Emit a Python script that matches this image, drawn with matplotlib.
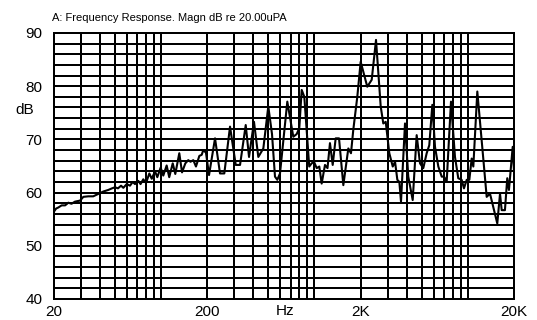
import matplotlib
matplotlib.use("Agg")
import matplotlib.pyplot as plt
from matplotlib import font_manager
from matplotlib.ticker import NullFormatter, FixedLocator
import numpy as np

# ---- data ----
freq_hz = [20, 20.8, 21.5, 22.6, 23.8, 25.0, 26.2, 27.6, 29.8, 31.3, 33.7, 36.3,
           40.2, 42.2, 45.5, 48.1, 50.3, 52.6, 55.1, 57.0, 60.0, 63.0, 65.6, 67.9,
           71.4, 73.8, 76.9, 80.1, 84.2, 87.3, 91.7, 94.9, 99.8, 103.8, 109.2, 113.5,
           119.6, 124.3, 132.0, 137.5, 144.5, 151.0, 156.1, 162.9, 169.5, 178.3, 184.7,
           189.2, 197.0, 206.2, 225.6, 243.1, 259.3, 282.5, 307.8, 328.3, 357.5, 375.7,
           404.7, 431.8, 465.6, 501.6, 530.3, 554.6, 574.1, 597.9, 667.1, 729.8, 767.7,
           798.4, 827.9, 861.0, 927.0, 961.6, 995.4, 1037, 1078, 1117, 1174, 1219, 1265,
           1318, 1378, 1449, 1546, 1666, 1734, 1795, 1906, 2005, 2214, 2366, 2524, 2708,
           2815, 2920, 3081, 3244, 3358, 3476, 3582, 3672, 3899, 4095, 4376, 4645, 4882,
           5129, 5397, 5612, 5874, 6115, 6427, 6762, 6998, 7288, 7773, 8252, 8670, 9122,
           9442, 9838, 10233, 10600, 10865, 11535, 13276, 13954, 15564, 16216, 16629,
           17458, 18076, 18541, 19612, 20000]
magn_db = [56.3, 57.0, 57.2, 57.6, 57.6, 58.1, 57.9, 58.3, 58.5, 59.2, 59.3, 59.3,
           59.9, 60.2, 60.5, 60.8, 61.0, 60.8, 61.3, 60.9, 61.6, 61.3, 62.0, 61.6,
           62.2, 61.6, 62.5, 61.8, 63.6, 62.6, 64.0, 62.9, 64.7, 63.2, 65.1, 62.9,
           65.5, 63.5, 67.4, 63.8, 65.5, 66.1, 65.8, 66.1, 64.9, 66.9, 67.1,
           68.0, 67.5, 63.3, 70.2, 63.6, 63.6, 72.4, 65.2, 65.2, 72.7, 66.7,
           73.3, 66.7, 68.3, 76.2, 71.0, 63.0, 62.4, 63.6, 77.1, 70.5, 71.0,
           72.1, 79.3, 78.0, 64.9, 65.5, 65.8, 64.6, 64.9, 61.7, 65.2, 64.6, 69.3,
           65.2, 70.2, 70.2, 61.4, 68.3, 67.4, 71.8, 78.0, 84.6, 79.9, 81.2, 88.7, 76.2,
           73.0, 73.3, 67.4, 64.9, 65.8, 62.4, 62.0, 58.3, 73.0, 63.0, 58.6, 70.8, 65.5,
           64.6, 67.4, 68.9, 76.5, 68.6, 64.9, 63.0, 63.0, 62.1, 77.1, 66.7, 62.7, 62.4,
           60.8, 62.4, 62.4, 66.4, 64.9, 79.0, 59.2, 59.8, 54.2, 59.8, 56.7,
           56.7, 62.7, 60.5, 68.6, 64.0]

x_ticks = [20, 200, 2000, 20000]
x_tick_labels = ["20", "200", "2K", "20K"]
y_ticks = [40, 50, 60, 70, 80, 90]
y_tick_labels = ["40", "50", "60", "70", "80", "90"]
title_text = "A: Frequency Response. Magn dB re 20.00uPA"
x_unit = "Hz"
y_unit = "dB"

available = {f.name for f in font_manager.fontManager.ttflist}
label_font = "Liberation Sans" if "Liberation Sans" in available else "DejaVu Sans"
title_font = "Liberation Sans Narrow" if "Liberation Sans Narrow" in available else label_font

fig = plt.figure(figsize=(5.37, 3.2), dpi=100)
ax = fig.add_axes([53.5 / 537, 21 / 320, 460.5 / 537, 266 / 320])

ax.set_xscale("log")
ax.set_xlim(20, 20000)
ax.set_ylim(40, 90)

# grid
minor_x = [m * 10 ** e for e in range(1, 5) for m in range(1, 10)]
minor_x = [v for v in minor_x if 20 <= v <= 20000]
ax.xaxis.set_major_locator(FixedLocator(x_ticks))
ax.xaxis.set_minor_locator(FixedLocator(minor_x))
ax.xaxis.set_minor_formatter(NullFormatter())
ax.set_xticklabels(x_tick_labels)
ax.set_yticks(np.arange(40, 91, 2), minor=True)
ax.yaxis.set_minor_formatter(NullFormatter())
ax.set_yticks(y_ticks)
ax.set_yticklabels(y_tick_labels)
ax.grid(True, which="both", color="black", linewidth=1.44, antialiased=False)
ax.tick_params(which="both", length=0)
ax.tick_params(axis="y", pad=8)
ax.tick_params(axis="x", pad=4)
for lbl in ax.get_xticklabels() + ax.get_yticklabels():
    lbl.set_fontfamily(label_font)
    lbl.set_fontsize(11)
for sp in ax.spines.values():
    sp.set_linewidth(1.44)
    sp.set_color("black")

ax.plot(freq_hz, magn_db, color="black", linewidth=1.5, zorder=5)

ax.text(0.503, -0.02, x_unit, transform=ax.transAxes, ha="center", va="top",
        fontsize=11, family=label_font)
ax.text(-0.062, 0.71, y_unit, transform=ax.transAxes, ha="center", va="center",
        fontsize=11, family=label_font)
fig.text(52 / 537, 1 - 18 / 320, title_text, ha="left", va="center",
         fontsize=8, family=title_font)

fig.savefig("out.png", dpi=100)
